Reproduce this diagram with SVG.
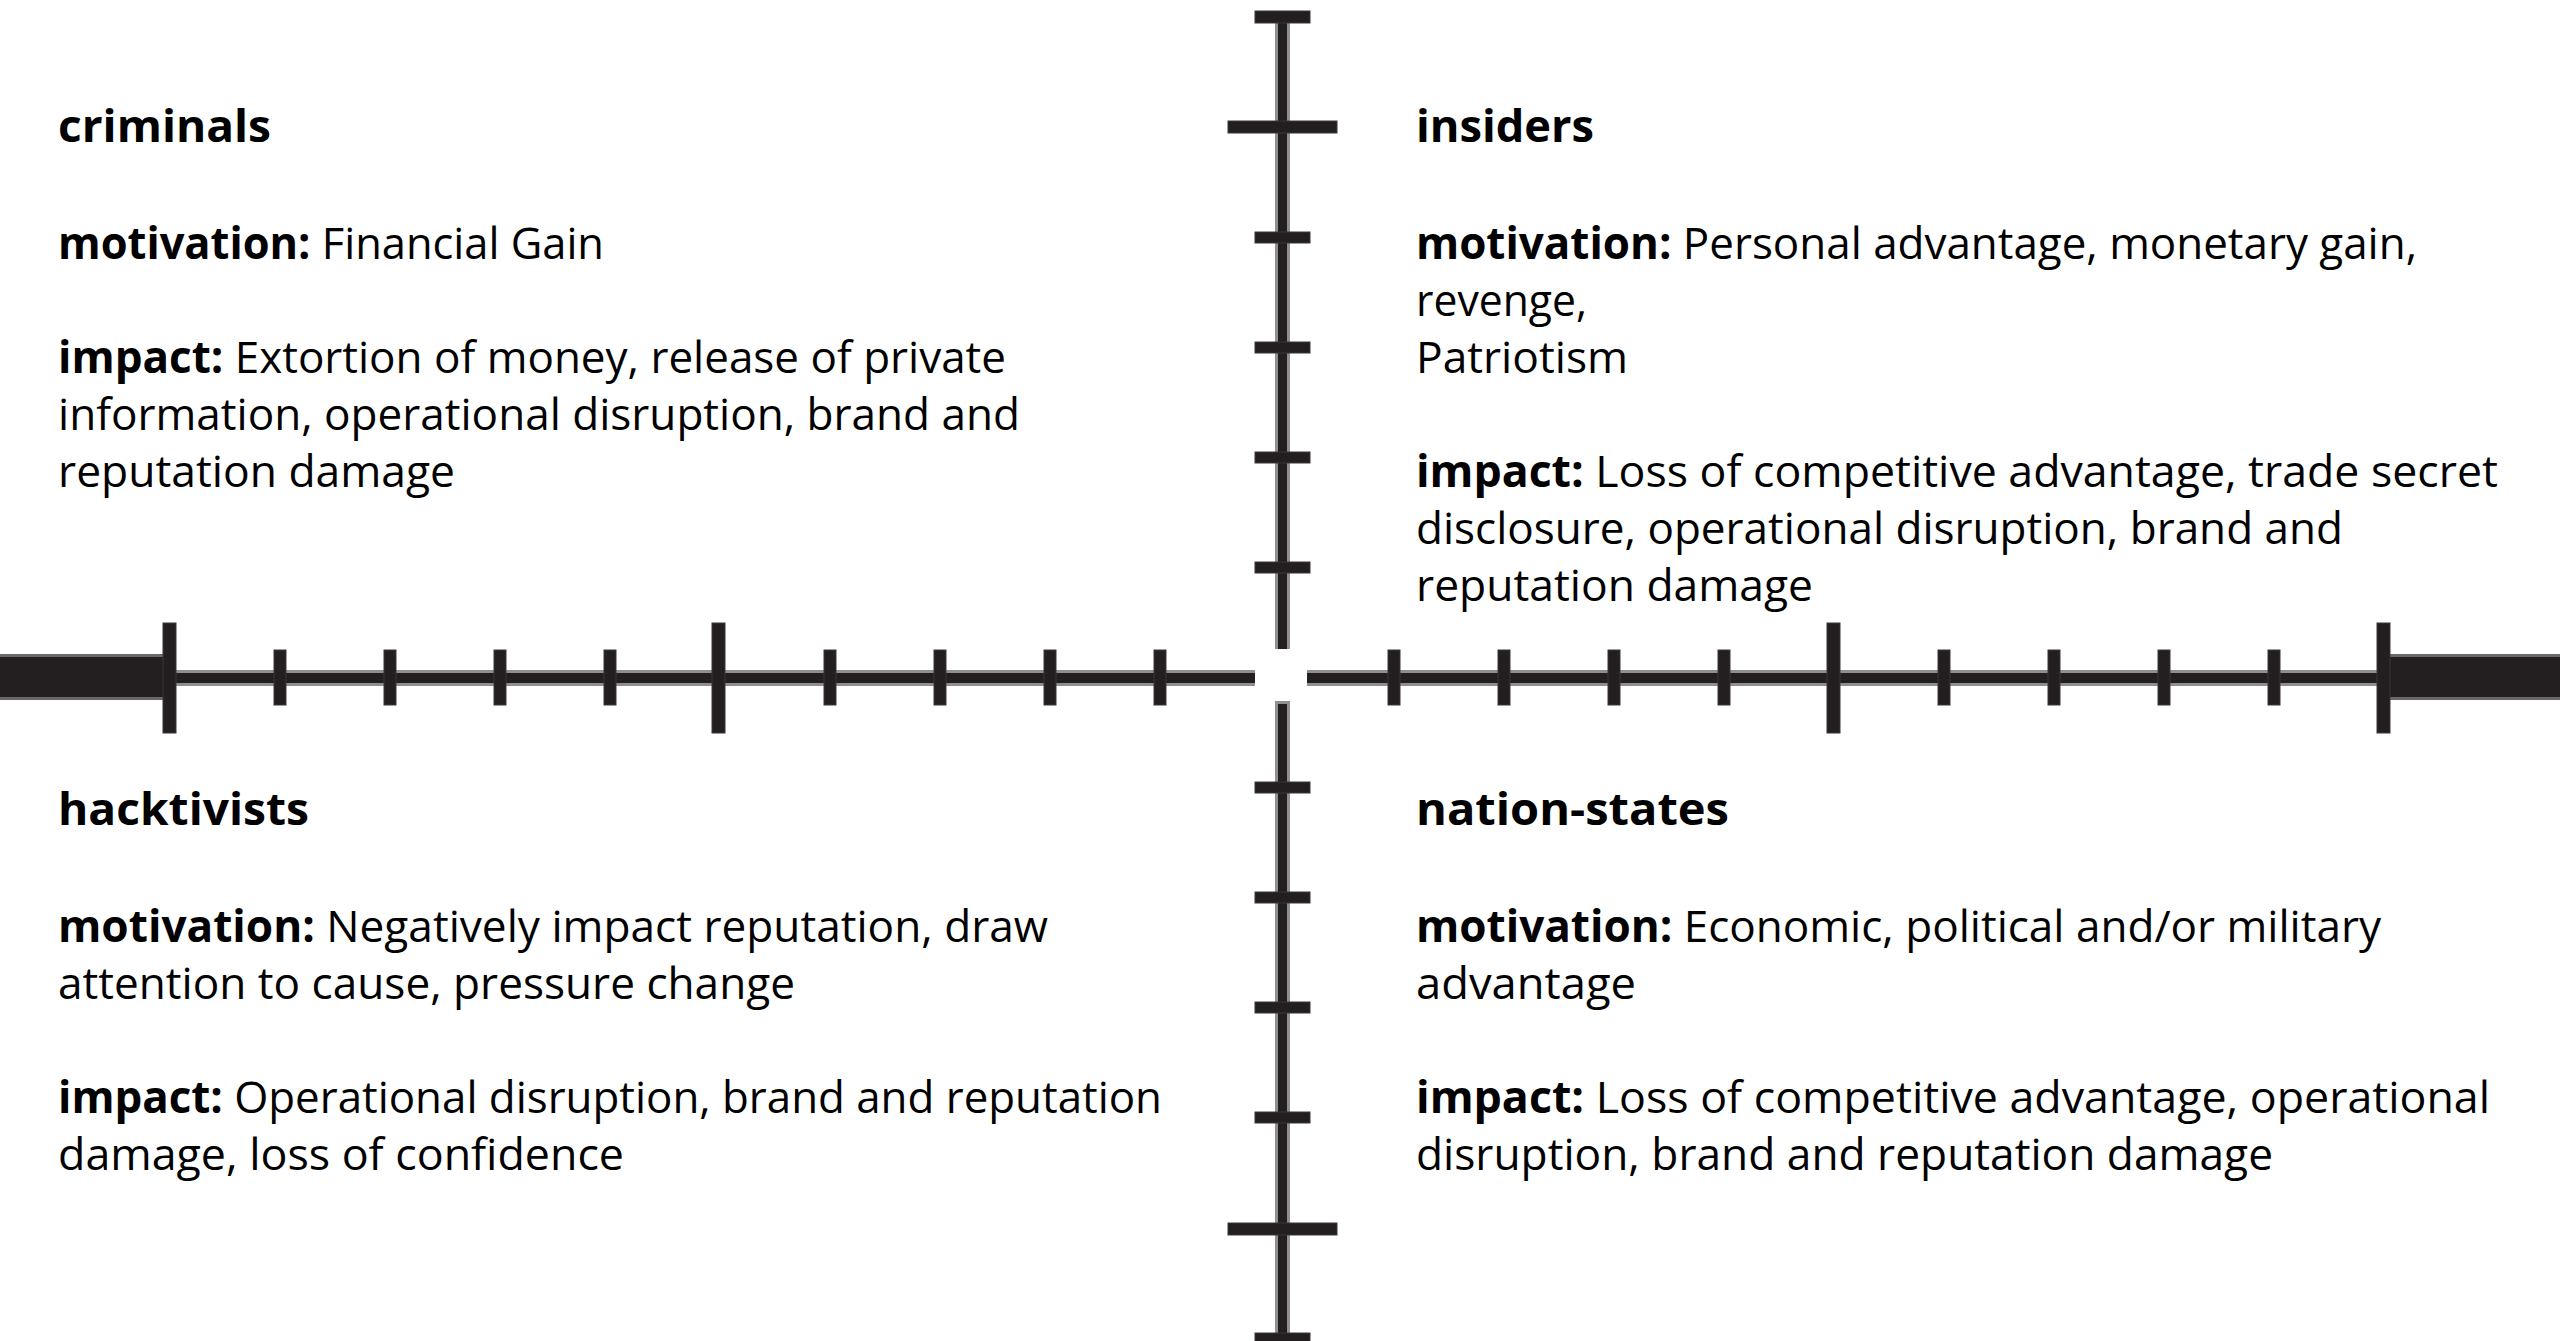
<svg xmlns="http://www.w3.org/2000/svg" width="2560" height="1341" viewBox="0 0 2560 1341">
<style>
  .halo{fill:#8f8f8f}
  .core{fill:#231f20}
  .bar{fill:#231f20;stroke:#6b6869;stroke-width:3}
  .tick{fill:#231f20;stroke:#3a3738;stroke-width:1}
  text{font-family:"Open Sans","Noto Sans",sans-serif;font-size:44px;fill:#000}
  .h{font-weight:700}
  .b{font-weight:700}
</style>
<rect width="2560" height="1341" fill="#fff"/>
<g id="crosshair">
  <!-- thick end bars -->
  <rect class="bar" x="-5" y="655.5" width="170" height="43"/>
  <rect class="bar" x="2387" y="655.5" width="180" height="43"/>
  <!-- axis halos -->
  <rect class="halo" x="163" y="670" width="1092" height="16"/>
  <rect class="halo" x="1307" y="670" width="1080" height="16"/>
  <rect class="halo" x="1275" y="11" width="15" height="638"/>
  <rect class="halo" x="1275" y="701" width="15" height="640"/>
  <!-- axis cores -->
  <rect class="core" x="163" y="673" width="1092" height="10"/>
  <rect class="core" x="1307" y="673" width="1080" height="10"/>
  <rect class="core" x="1278" y="11" width="9" height="638"/>
  <rect class="core" x="1278" y="704" width="9" height="637"/>
  <!-- horizontal axis ticks, left -->
  <rect class="tick" x="163" y="623" width="13" height="110"/>
  <rect class="tick" x="274" y="650" width="12" height="55"/>
  <rect class="tick" x="384" y="650" width="12" height="55"/>
  <rect class="tick" x="494" y="650" width="12" height="55"/>
  <rect class="tick" x="604" y="650" width="12" height="55"/>
  <rect class="tick" x="712" y="623" width="13" height="110"/>
  <rect class="tick" x="824" y="650" width="12" height="55"/>
  <rect class="tick" x="934" y="650" width="12" height="55"/>
  <rect class="tick" x="1044" y="650" width="12" height="55"/>
  <rect class="tick" x="1154" y="650" width="12" height="55"/>
  <!-- horizontal axis ticks, right -->
  <rect class="tick" x="1388" y="650" width="12" height="55"/>
  <rect class="tick" x="1498" y="650" width="12" height="55"/>
  <rect class="tick" x="1608" y="650" width="12" height="55"/>
  <rect class="tick" x="1718" y="650" width="12" height="55"/>
  <rect class="tick" x="1827" y="623" width="13" height="110"/>
  <rect class="tick" x="1938" y="650" width="12" height="55"/>
  <rect class="tick" x="2048" y="650" width="12" height="55"/>
  <rect class="tick" x="2158" y="650" width="12" height="55"/>
  <rect class="tick" x="2268" y="650" width="12" height="55"/>
  <rect class="tick" x="2377" y="623" width="13" height="110"/>
  <!-- vertical axis ticks, top -->
  <rect class="tick" x="1255" y="11" width="55" height="12"/>
  <rect class="tick" x="1228" y="121" width="109" height="12"/>
  <rect class="tick" x="1255" y="232" width="55" height="11"/>
  <rect class="tick" x="1255" y="342" width="55" height="11"/>
  <rect class="tick" x="1255" y="452" width="55" height="11"/>
  <rect class="tick" x="1255" y="562" width="55" height="11"/>
  <!-- vertical axis ticks, bottom -->
  <rect class="tick" x="1255" y="782" width="55" height="11"/>
  <rect class="tick" x="1255" y="892" width="55" height="11"/>
  <rect class="tick" x="1255" y="1002" width="55" height="11"/>
  <rect class="tick" x="1255" y="1112" width="55" height="11"/>
  <rect class="tick" x="1228" y="1223" width="109" height="12"/>
  <rect class="tick" x="1255" y="1333" width="55" height="12"/>
</g>
<g id="criminals">
  <text class="h" x="58" y="142" textLength="213" lengthAdjust="spacingAndGlyphs">criminals</text>
  <text x="58" y="259" textLength="546" lengthAdjust="spacingAndGlyphs"><tspan class="b">motivation:</tspan> Financial Gain</text>
  <text x="58" y="373" textLength="948" lengthAdjust="spacingAndGlyphs"><tspan class="b">impact:</tspan> Extortion of money, release of private</text>
  <text x="58" y="430" textLength="962" lengthAdjust="spacingAndGlyphs">information, operational disruption, brand and</text>
  <text x="58" y="487" textLength="397" lengthAdjust="spacingAndGlyphs">reputation damage</text>
</g>
<g id="insiders">
  <text class="h" x="1416" y="142" textLength="178" lengthAdjust="spacingAndGlyphs">insiders</text>
  <text x="1416" y="259" textLength="1001" lengthAdjust="spacingAndGlyphs"><tspan class="b">motivation:</tspan> Personal advantage, monetary gain,</text>
  <text x="1416" y="316" textLength="171" lengthAdjust="spacingAndGlyphs">revenge,</text>
  <text x="1416" y="373" textLength="212" lengthAdjust="spacingAndGlyphs">Patriotism</text>
  <text x="1416" y="487" textLength="1082" lengthAdjust="spacingAndGlyphs"><tspan class="b">impact:</tspan> Loss of competitive advantage, trade secret</text>
  <text x="1416" y="544" textLength="927" lengthAdjust="spacingAndGlyphs">disclosure, operational disruption, brand and</text>
  <text x="1416" y="601" textLength="397" lengthAdjust="spacingAndGlyphs">reputation damage</text>
</g>
<g id="hacktivists">
  <text class="h" x="58" y="825" textLength="251" lengthAdjust="spacingAndGlyphs">hacktivists</text>
  <text x="58" y="942" textLength="990" lengthAdjust="spacingAndGlyphs"><tspan class="b">motivation:</tspan> Negatively impact reputation, draw</text>
  <text x="58" y="999" textLength="737" lengthAdjust="spacingAndGlyphs">attention to cause, pressure change</text>
  <text x="58" y="1113" textLength="1104" lengthAdjust="spacingAndGlyphs"><tspan class="b">impact:</tspan> Operational disruption, brand and reputation</text>
  <text x="58" y="1170" textLength="566" lengthAdjust="spacingAndGlyphs">damage, loss of confidence</text>
</g>
<g id="nation-states">
  <text class="h" x="1416" y="825" textLength="313" lengthAdjust="spacingAndGlyphs">nation-states</text>
  <text x="1416" y="942" textLength="965" lengthAdjust="spacingAndGlyphs"><tspan class="b">motivation:</tspan> Economic, political and/or military</text>
  <text x="1416" y="999" textLength="220" lengthAdjust="spacingAndGlyphs">advantage</text>
  <text x="1416" y="1113" textLength="1074" lengthAdjust="spacingAndGlyphs"><tspan class="b">impact:</tspan> Loss of competitive advantage, operational</text>
  <text x="1416" y="1170" textLength="857" lengthAdjust="spacingAndGlyphs">disruption, brand and reputation damage</text>
</g>
<g id="connectors"></g>
</svg>
